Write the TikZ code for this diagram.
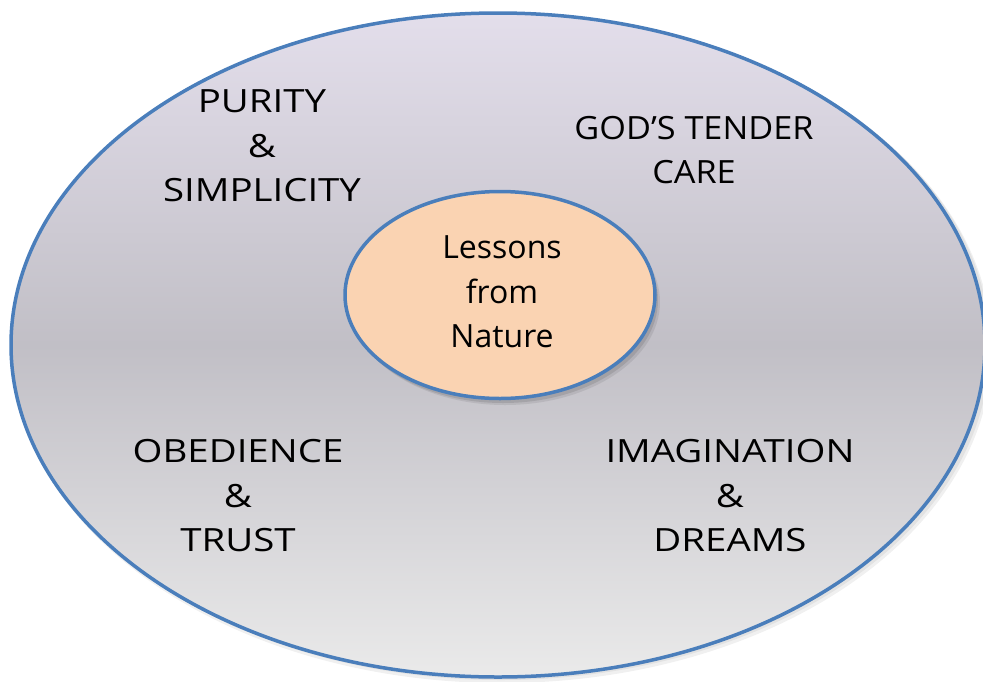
\documentclass[tikz,border=0pt]{standalone}
\usepackage{fontspec}
\setmainfont[FakeStretch=1.2]{Open Sans}
\newfontfamily\plainfam{Open Sans}
\newfontfamily\midfam[FakeStretch=1.07]{Open Sans}
\usetikzlibrary{shapes.geometric}
\definecolor{rim}{RGB}{74,126,187}
\definecolor{topc}{RGB}{227,222,235}
\definecolor{midc}{RGB}{193,191,198}
\definecolor{botc}{RGB}{234,234,234}
\definecolor{peach}{RGB}{250,211,178}
\tikzset{
  lbl/.style={align=center, font=\fontsize{32}{44.5}\selectfont, text=black, inner sep=0pt},
  rimline/.style={draw=rim, line width=3.5pt}
}
\begin{document}
\begin{tikzpicture}[x=1pt,y=1pt]
\useasboundingbox (0,0) rectangle (983,-681);
% outer shadow
\fill[black, opacity=0.06] (502,-349) ellipse [x radius=490, y radius=334];
\fill[black, opacity=0.06] (501,-347) ellipse [x radius=489, y radius=333];
% outer ellipse
\path[rimline, top color=topc, bottom color=botc, middle color=midc] (498,-345) ellipse [x radius=487, y radius=332];
\coordinate (outer) at (498,-345);
% inner shadow
\fill[black, opacity=0.10] (503,-300) ellipse [x radius=155, y radius=103];
\fill[black, opacity=0.08] (505,-302) ellipse [x radius=155, y radius=103];
% inner ellipse
\node[rimline, fill=peach, ellipse, minimum width=310, minimum height=207, inner sep=0pt] (core) at (500,-295) {};
\node[lbl, font=\fontsize{32}{44.5}\plainfam] (lessons) at (502,-292) {Lessons\\from\\Nature};
\node[lbl] (purity) at (262,-146) {PURITY\\\&\\SIMPLICITY};
\node[lbl, font=\fontsize{32}{44.5}\midfam] (god) at (694,-150) {GOD’S TENDER\\CARE};
\node[lbl] (obed) at (238,-496) {OBEDIENCE\\\&\\TRUST};
\node[lbl] (imag) at (730,-496) {IMAGINATION\\\&\\DREAMS};
\end{tikzpicture}
\end{document}
